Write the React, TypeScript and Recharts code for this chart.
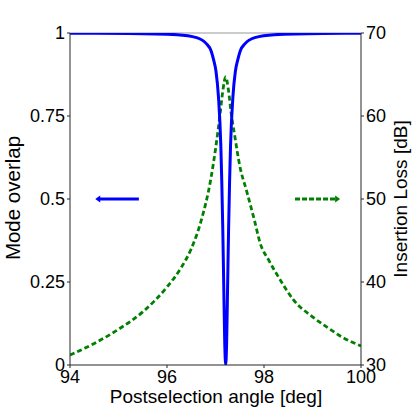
import React from 'react';
import { ComposedChart, Line, XAxis, YAxis, ReferenceLine, Label } from 'recharts';

// Mode overlap (left axis)
const overlapAngles = [94, 95.21, 96.21, 96.61, 96.81, 96.91, 96.96, 97.01, 97.06, 97.11, 97.13, 97.15, 97.17, 97.19, 97.21, 97.23, 97.25, 97.27, 97.29, 97.31, 97.36, 97.41, 97.46, 97.51, 97.61, 97.81, 98.21, 99.21, 100];
const overlapValues = [0.9995, 0.9987, 0.995, 0.986, 0.968, 0.946, 0.92, 0.885, 0.81, 0.66, 0.55, 0.41, 0.24, 0.07, 0, 0.07, 0.24, 0.41, 0.55, 0.66, 0.81, 0.885, 0.92, 0.946, 0.968, 0.986, 0.995, 0.9987, 0.9993];

// Insertion loss in dB (right axis)
const lossAngles = [94, 94.5, 95, 95.5, 96, 96.3, 96.5, 96.7, 96.9, 97.0, 97.1, 97.15, 97.21, 97.27, 97.32, 97.4, 97.5, 97.64, 97.8, 97.92, 98.1, 98.33, 98.6, 99.0, 99.29, 99.6, 100];
const lossValues = [31.2, 32.6, 34.3, 36.4, 39.4, 41.8, 44.0, 47.3, 52.3, 56.0, 60.5, 63.0, 64.7, 63.0, 60.5, 57.5, 54.0, 51.0, 47.5, 44.7, 42.6, 40.3, 37.9, 35.8, 34.6, 33.4, 32.3];

const xTicks = [94, 96, 98, 100];
const leftTicks = [0, 0.25, 0.5, 0.75, 1];
const rightTicks = [30, 40, 50, 60, 70];

// Arrow segments [from, to] in data units (angle, overlap)
const blueArrow = [{ x: 95.42, y: 0.5 }, { x: 94.52, y: 0.5 }];
const greenArrow = [{ x: 98.64, y: 0.5 }, { x: 99.57, y: 0.5 }];

const overlapData = overlapAngles.map((x, i) => ({ x, v: overlapValues[i] }));
const lossData = lossAngles.map((x, i) => ({ x, l: lossValues[i] }));

const FONT = '"Liberation Sans", Arial, sans-serif';
const BLUE = '#0000ff';
const GREEN = '#008000';
const AXIS = '#262626';

const arrowShape = (color: string, dashed: boolean) => (props: any) => {
  const { x1, y1, x2, y2 } = props;
  const dir = Math.sign(x2 - x1);
  const hl = 5;
  const hw = 3.5;
  return (
    <g>
      <line x1={x1} y1={y1} x2={x2 - dir * hl * 0.6} y2={y2} stroke={color} strokeWidth={3}
        strokeDasharray={dashed ? '5 2' : undefined} />
      <polygon points={`${x2},${y2} ${x2 - dir * hl},${y2 - hw} ${x2 - dir * hl},${y2 + hw}`} fill={color} />
    </g>
  );
};

const tickStyle = { fill: '#000', fontSize: 18, fontFamily: FONT };

export default function App() {
  return (
    <div style={{ position: 'absolute', left: 0, top: 0, width: 415, height: 416, background: '#fff' }}>
      <ComposedChart width={415} height={416} margin={{ top: 33, right: 0, left: 0, bottom: 0 }}>
        <XAxis type="number" dataKey="x" domain={[94, 100]} ticks={xTicks} allowDataOverflow
          height={51} tickSize={3} tickMargin={2} tick={tickStyle} stroke={AXIS}
          tickLine={{ stroke: AXIS }} axisLine={{ stroke: AXIS }}>
          <Label content={() => (
            <text x={216} y={403} textAnchor="middle" fontSize={19} fontFamily={FONT} fill="#000">Postselection angle [deg]</text>
          )} />
        </XAxis>
        <YAxis yAxisId="left" orientation="left" domain={[0, 1]} ticks={leftTicks} allowDataOverflow
          width={70} tickSize={3} tickMargin={2} tick={tickStyle} stroke={AXIS}
          tickLine={{ stroke: AXIS }} axisLine={{ stroke: AXIS }}>
          <Label content={() => (
            <text x={20} y={198} transform="rotate(-90 20 198)" textAnchor="middle" fontSize={20.5} fontFamily={FONT} fill="#000">Mode overlap</text>
          )} />
        </YAxis>
        <YAxis yAxisId="right" orientation="right" domain={[30, 70]} ticks={rightTicks} allowDataOverflow
          width={54} tickSize={3} tickMargin={2} tick={tickStyle} stroke={AXIS}
          tickLine={{ stroke: AXIS }} axisLine={{ stroke: AXIS }}>
          <Label content={() => (
            <text x={407} y={199} transform="rotate(-90 407 199)" textAnchor="middle" fontSize={19} fontFamily={FONT} fill="#000">Insertion Loss [dB]</text>
          )} />
        </YAxis>
        <ReferenceLine yAxisId="left" y={1} stroke="#999" strokeWidth={1} />
        <Line yAxisId="right" data={lossData} dataKey="l" type="monotone" stroke={GREEN} strokeWidth={2.8}
          strokeDasharray="5 3" dot={false} activeDot={false} isAnimationActive={false} />
        <Line yAxisId="left" data={overlapData} dataKey="v" type="monotone" stroke={BLUE} strokeWidth={3}
          dot={false} activeDot={false} isAnimationActive={false} />
        <ReferenceLine yAxisId="left" segment={blueArrow} shape={arrowShape(BLUE, false)} />
        <ReferenceLine yAxisId="left" segment={greenArrow} shape={arrowShape(GREEN, true)} />
      </ComposedChart>
    </div>
  );
}
